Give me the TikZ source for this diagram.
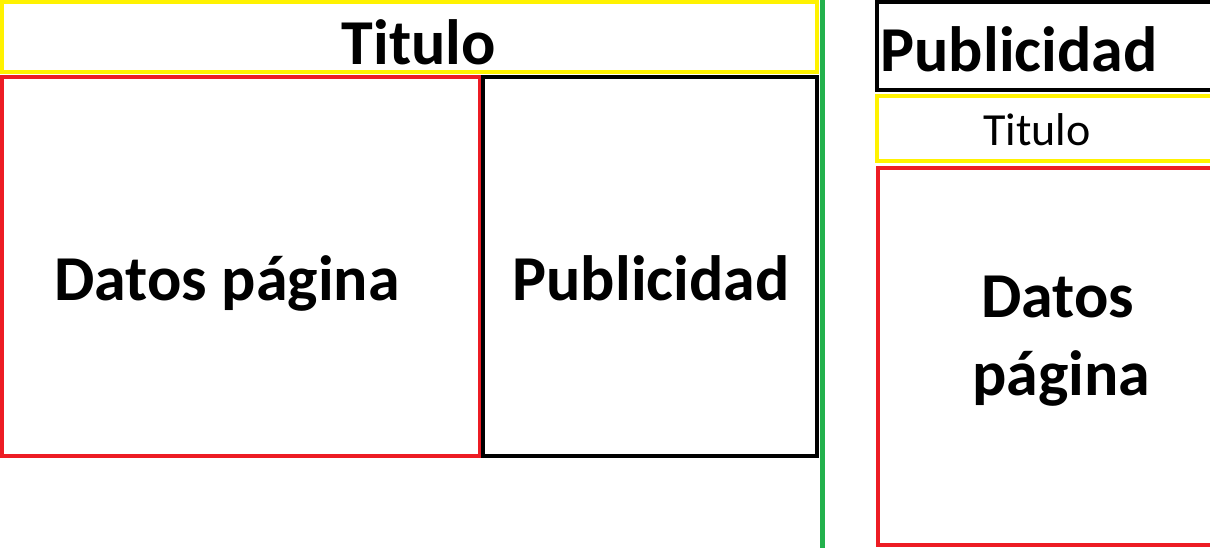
\documentclass[tikz,border=0pt]{standalone}
\usepackage{fontspec}
\setmainfont{Carlito}
\usetikzlibrary{positioning}

\definecolor{mockyellow}{HTML}{FFF200}
\definecolor{mockred}{HTML}{ED1C24}
\definecolor{mockgreen}{HTML}{22B14C}

\tikzset{
  frame/.style={line width=4pt},
  bigtext/.style={font=\fontsize{64}{77}\selectfont\bfseries, anchor=base, inner sep=0pt},
  smalltext/.style={font=\fontsize{46}{55}\selectfont, anchor=base, inner sep=0pt}
}

\begin{document}
\begin{tikzpicture}[x=1pt, y=-1pt]
  \clip (0,0) rectangle (1210,548);
  \fill [white] (0,0) rectangle (1210,548);
  % escritorio
  \draw [frame, mockyellow] (2,2) rectangle (817,72);
  \draw [frame, mockred] (2,77) rectangle (480,456);
  \draw [frame, black] (483,77) rectangle (817,456);
  \node [bigtext] (tituloA) at (419,65) {Titulo};
  \node [bigtext] (datosA) at (227,300) {Datos página};
  \node [bigtext] (publiA) at (651,300) {Publicidad};
  % separador
  \draw [line width=5pt, mockgreen] (822,0) -- (822,548);
  % movil
  \draw [frame, black] (877,2) rectangle (1216,90);
  \draw [frame, mockyellow] (877,96) rectangle (1216,161);
  \draw [frame, mockred] (878,168) rectangle (1216,545);
  \node [bigtext] (publiB) at (1019,72) {Publicidad};
  \node [smalltext] (tituloB) at (1037,146) {Titulo};
  \node [bigtext] (datosB) at (1058,317) {Datos};
  \node [bigtext] (paginaB) at (1061,395) {página};
\end{tikzpicture}
\end{document}
